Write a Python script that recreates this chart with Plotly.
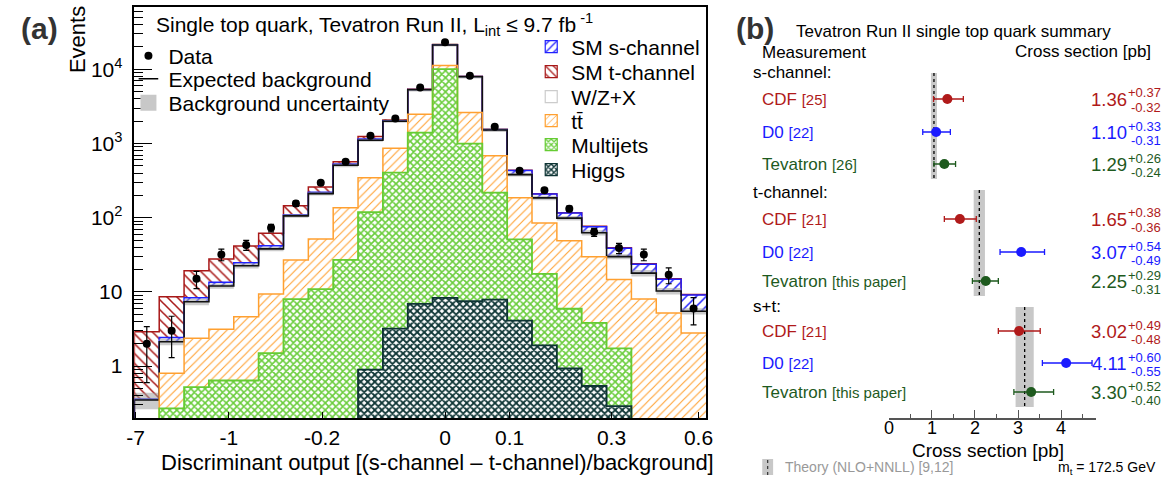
import numpy as np
import plotly.graph_objects as go

W, H = 1175, 481
FONT = "Liberation Sans"

# ---------------- Panel (a): data ----------------
x_tick_labels = ["-7", "-1", "-0.2", "0", "0.1", "0.3", "0.6"]
higgs = [0, 0, 0, 0, 0, 0, 0, 0, 0, 0.9, 3.2, 6.9, 8.3, 7.5, 7.9, 4.1, 1.9, 0.93, 0.54, 0.29, 0, 0, 0]
multijets = [0, 0.27, 0.52, 0.64, 0.64, 1.5, 8.0, 10.9, 27, 118, 402, 1400, 10080, 992, 210, 47, 15.6, 5.0, 3.3, 1.44, 0, 0, 0]
ttbar = [0, 0.53, 1.85, 2.5, 4.0, 7.9, 19, 40.6, 109, 228, 459, 1081, 1130, 1624, 464, 135, 67.5, 43, 26, 13, 8.0, 5.2, 2.8]
wzx = [0.35, 1.33, 5.0, 8.9, 17.9, 28.6, 79, 160, 373, 762, 1136, 2810, 10080, 5326, 838, 195, 100, 50, 33, 15.2, 9.9, 5.1, 2.7]
s_channel = [0.01, 0.31, 1.0, 1.5, 2.1, 4, 4, 9, 21, 41, 30, 50, 100, 50, 25, 51, 24, 17, 13, 9, 5.8, 4.5, 3.6]
t_channel = [2.54, 6.2, 11, 14.2, 16.8, 20, 35, 40, 40, 90, 50, 70, 150, 40, 15, 3, 2, 1, 1, 0.5, 0.3, 0.2, 0.1]
bkg_unc_rel = [0.25, 0.1, 0.1, 0.08, 0.08, 0.07, 0.06, 0.06, 0.06, 0.05, 0.05, 0.05, 0.05, 0.05, 0.06, 0.06, 0.07, 0.07, 0.08, 0.08, 0.1, 0.1, 0.1]
data_counts = [2, 3, 15, 32, 43, 73, 155, 297, 568, 1270, 2175, 5710, 23170, 8220, 1680, 430, 234, 132, 64, 39, 32, 17, 6]
data_err = [1.4, 1.7, 3.9, 5.7, 6.6, 8.5, 12.4, 17, 24, 36, 47, 76, 152, 91, 41, 21, 15, 11.5, 8, 6.2, 5.7, 4.1, 2.4]

# ---------------- Panel (b): data ----------------
groups = ["s-channel:", "t-channel:", "s+t:"]
experiments = ["CDF", "D0", "Tevatron"]
references = [["[25]", "[22]", "[26]"],
              ["[21]", "[22]", "[this paper]"],
              ["[21]", "[22]", "[this paper]"]]
xsec = [[1.36, 1.10, 1.29], [1.65, 3.07, 2.25], [3.02, 4.11, 3.30]]
xsec_up = [[0.37, 0.33, 0.26], [0.38, 0.54, 0.29], [0.49, 0.60, 0.52]]
xsec_dn = [[0.32, 0.31, 0.24], [0.36, 0.49, 0.31], [0.48, 0.55, 0.40]]
theory = [1.05, 2.10, 3.15]
theory_err = [0.07, 0.13, 0.21]
b_ticks = [0, 1, 2, 3, 4]

# ---------------- layout constants (pixels) ----------------
A_L, A_R, A_T, A_B = 128, 707, 7, 418
B_L, B_R, B_AX = 892, 1102, 419
x_tick_pos = [0.05, 3.8, 7.55, 12.5, 15.1, 19.2, 22.7]
ROW_Y = [[99, 132, 164], [219, 252, 281], [331, 363, 392]]
HEAD_Y = [73, 193, 306]
BAND_Y = [(73, 179), (190, 296), (307, 407)]
EXP_COL = {"CDF": "#b01a1a", "D0": "#1a1aff", "Tevatron": "#1e5a1e"}


def px(x):
    return x / W


def py(y):
    return 1 - y / H


nb = len(data_counts)
centers = np.arange(nb) + 0.5
fig = go.Figure()

# stacked components
comp_style = [
    ("Higgs", higgs, dict(shape="x", fgcolor="#0f3636", size=5, solidity=0.6), "#0e3434"),
    ("Multijets", multijets, dict(shape="x", fgcolor="#6acd3c", size=5, solidity=0.55), "#66cc33"),
    ("tt̄", ttbar, dict(shape="/", fgcolor="#ffa030", size=6, solidity=0.18), "#ffa030"),
    ("W/Z+X", wzx, None, "#cccccc"),
    ("SM s-channel", s_channel, dict(shape="/", fgcolor="#2020ff", size=7, solidity=0.22), "#2020ff"),
    ("SM t-channel", t_channel, dict(shape="\\", fgcolor="#a81818", size=7, solidity=0.22), "#a81818"),
]
for name, vals, pat, lc in comp_style:
    marker = dict(color="white", line=dict(width=0))
    if pat is not None:
        marker["pattern"] = dict(bgcolor="white", fillmode="replace", **pat)
    fig.add_trace(go.Bar(x=centers, y=vals, width=1.0, marker=marker, showlegend=False,
                         hoverinfo="skip", xaxis="x", yaxis="y"))

cum = np.cumsum(np.array([higgs, multijets, ttbar, wzx, s_channel, t_channel], dtype=float), axis=0)
FLOOR = 1e-3
xs_step = np.concatenate([[0], np.arange(nb), [nb]])


def step_y(v):
    v = np.where(v > 0, v, FLOOR)
    return np.concatenate([[FLOOR], v, [v[-1]]])


def add_step(v, color, width=1.5):
    fig.add_trace(go.Scatter(x=xs_step, y=step_y(v), mode="lines", line=dict(color=color, width=width, shape="hv"),
                             showlegend=False, hoverinfo="skip", xaxis="x", yaxis="y"))


add_step(cum[5], "#a81818")
add_step(cum[4], "#2020ff")

bkg = cum[3]
rel = np.array(bkg_unc_rel)
xs_band = np.concatenate([np.arange(nb), [nb]])
lo = bkg * (1 - rel)
hi = bkg * (1 + rel)
fig.add_trace(go.Scatter(x=xs_band, y=np.concatenate([lo, [lo[-1]]]), mode="lines",
                         line=dict(width=0, shape="hv"), showlegend=False, hoverinfo="skip", xaxis="x", yaxis="y"))
fig.add_trace(go.Scatter(x=xs_band, y=np.concatenate([hi, [hi[-1]]]), mode="lines", fill="tonexty",
                         fillcolor="rgba(160,160,160,0.55)", line=dict(width=0, shape="hv"),
                         showlegend=False, hoverinfo="skip", xaxis="x", yaxis="y"))
add_step(cum[3], "#111111", 1.6)
add_step(cum[2], "#ffa030")
add_step(cum[1], "#66cc33", 1.8)
add_step(cum[0], "#0e3434", 1.8)

fig.add_trace(go.Scatter(x=centers, y=data_counts, mode="markers",
                         marker=dict(color="black", size=8),
                         error_y=dict(type="data", array=data_err, color="black", thickness=1.2, width=3),
                         showlegend=False, hoverinfo="skip", xaxis="x", yaxis="y"))

# legend entries (empty traces)
leg_font = dict(family=FONT, size=21, color="black")
fig.add_trace(go.Scatter(x=[None], y=[None], mode="markers", name="Data",
                         marker=dict(color="black", size=8), legend="legend", showlegend=True))
fig.add_trace(go.Scatter(x=[None], y=[None], mode="markers", name="Expected background",
                         marker=dict(symbol="line-ew-open", size=14, color="black",
                                     line=dict(color="black", width=1.5)),
                         legend="legend2", showlegend=True))
fig.add_trace(go.Scatter(x=[None], y=[None], mode="markers", name="Background uncertainty",
                         marker=dict(symbol="square", size=16, color="#c8c8c8"),
                         legend="legend3", showlegend=True))
right_leg = ["SM s-channel", "SM t-channel", "W/Z+X", "tt̄", "Multijets", "Higgs"]
style_by_name = {c[0]: c for c in comp_style}
for i, nm in enumerate(right_leg):
    _, _, pat, lc = style_by_name[nm]
    mk = dict(color="white", line=dict(width=1.2, color=lc))
    if pat is not None:
        mk["pattern"] = dict(bgcolor="white", fillmode="replace", **pat)
    fig.add_trace(go.Bar(x=[None], y=[None], name=nm, marker=mk, legend=f"legend{4 + i}",
                         showlegend=True, xaxis="x", yaxis="y"))

# ---------------- Panel (b) traces ----------------
for k, exp in enumerate(experiments):
    fig.add_trace(go.Scatter(
        x=[xsec[g][k] for g in range(3)], y=[ROW_Y[g][k] for g in range(3)], mode="markers",
        marker=dict(color=EXP_COL[exp], size=10),
        error_x=dict(type="data", symmetric=False, array=[xsec_up[g][k] for g in range(3)],
                     arrayminus=[xsec_dn[g][k] for g in range(3)], color=EXP_COL[exp], thickness=1.3, width=3),
        showlegend=False, hoverinfo="skip", xaxis="x2", yaxis="y2"))

shapes = []
for g in range(3):
    y0, y1 = BAND_Y[g]
    shapes.append(dict(type="rect", xref="x2", yref="y2", x0=theory[g] - theory_err[g], x1=theory[g] + theory_err[g],
                       y0=y0, y1=y1, fillcolor="#c8c8c8", line=dict(width=0), layer="below"))
    shapes.append(dict(type="line", xref="x2", yref="y2", x0=theory[g], x1=theory[g], y0=y0, y1=y1,
                       line=dict(color="black", width=1.3, dash="dot"), layer="below"))
# theory legend glyph
shapes.append(dict(type="rect", xref="paper", yref="paper", x0=px(764), x1=px(775), y0=py(475), y1=py(459),
                   fillcolor="#c8c8c8", line=dict(width=0)))
shapes.append(dict(type="line", xref="paper", yref="paper", x0=px(769.5), x1=px(769.5), y0=py(475), y1=py(459),
                   line=dict(color="#333333", width=1.2, dash="dot")))

ann = []


def text(x, y, s, size, xanchor="left", color="black", bold=False, angle=0):
    if bold:
        s = f"<b>{s}</b>"
    ann.append(dict(x=px(x), y=py(y), xref="paper", yref="paper", text=s, showarrow=False,
                    xanchor=xanchor, yanchor="middle", textangle=angle,
                    font=dict(family=FONT, size=size, color=color)))


text(32, 28, "(a)", 30, "center", "#333333", bold=True)
text(70, 40, "Events", 22, "center", angle=-90)
text(148, 24, "Single top quark, Tevatron Run II, L<sub>int</sub> ≤ 9.7 fb<sup> -1</sup>", 21)
text(435, 462, "Discriminant output [(s-channel – t-channel)/background]", 22, "center")

text(757, 28, "(b)", 30, "center", "#333333", bold=True)
text(958, 31, "Tevatron Run II single top quark summary", 17, "center")
text(762, 53, "Measurement", 17)
text(1160, 51, "Cross section [pb]", 17, "right")
for g in range(3):
    text(753, HEAD_Y[g], groups[g], 17)
    for k, exp in enumerate(experiments):
        c = EXP_COL[exp]
        y = ROW_Y[g][k]
        text(762, y, f"{exp} <span style='font-size:15px'>{references[g][k]}</span>", 17, color=c)
        text(1136, y, f"{xsec[g][k]:.2f}", 18.5, "right", c)
        text(1170, y - 6, f"+{xsec_up[g][k]:.2f}", 13, "right", c)
        text(1170, y + 8, f"-{xsec_dn[g][k]:.2f}", 13, "right", c)
# panel (b) tick labels placed on the x2 scale
for v in b_ticks:
    ann.append(dict(x=v, xref="x2", y=py(428), yref="paper", text=str(v), showarrow=False,
                    xanchor="center", yanchor="middle", font=dict(family=FONT, size=18, color="black")))
text(993, 450, "Cross section [pb]", 19, "center")
text(785, 467, "Theory (NLO+NNLL) [9,12]", 14, color="#999999")
text(1165, 468, "m<sub>t</sub> = 172.5 GeV", 14, "right")

minor_vals = [m * 10.0 ** e for e in range(-1, 5) for m in range(2, 10)]

legends = {}
left_leg_y = [56, 79, 103]
for i, y in enumerate(left_leg_y):
    key = "legend" if i == 0 else f"legend{i + 1}"
    legends[key] = dict(x=px(122), y=py(y), xanchor="left", yanchor="middle", bgcolor="rgba(0,0,0,0)",
                        font=leg_font, borderwidth=0)
right_leg_y = [47, 72, 97, 121, 145, 170]
for i, y in enumerate(right_leg_y):
    legends[f"legend{4 + i}"] = dict(x=px(530), y=py(y), xanchor="left", yanchor="middle",
                                     bgcolor="rgba(0,0,0,0)", font=leg_font, borderwidth=0)

fig.update_layout(
    width=W, height=H, margin=dict(l=0, r=0, t=0, b=0),
    paper_bgcolor="white", plot_bgcolor="white",
    barmode="stack", bargap=0,
    font=dict(family=FONT, size=21, color="black"),
    xaxis=dict(domain=[px(A_L), px(A_R)], range=[0, nb], tickmode="array", tickvals=x_tick_pos,
               ticktext=x_tick_labels, ticks="inside", ticklen=6, tickcolor="black", tickwidth=1.2,
               showline=True, linecolor="black", linewidth=1.5, mirror=True, showgrid=False, zeroline=False,
               tickfont=dict(family=FONT, size=21), anchor="y"),
    yaxis=dict(domain=[py(A_B), py(A_T)], type="log", range=[np.log10(0.2), 4.84], tickmode="array",
               tickvals=[1, 10, 100, 1000, 10000],
               ticktext=["1", "10", "10<sup>2</sup>", "10<sup>3</sup>", "10<sup>4</sup>"],
               ticks="inside", ticklen=18, tickwidth=1.2, tickcolor="black",
               minor=dict(tickmode="array", tickvals=minor_vals, ticks="inside", ticklen=9, tickcolor="black",
                          tickwidth=1, showgrid=False),
               showline=True, linecolor="black", linewidth=1.5, mirror=True, showgrid=False, zeroline=False,
               tickfont=dict(family=FONT, size=21), anchor="x", ticklabelstandoff=6),
    xaxis2=dict(domain=[px(B_L), px(B_R)], range=[0, 4.8], tickmode="array", tickvals=b_ticks,
                showticklabels=False,
                ticks="inside", ticklen=8, tickcolor="#555555", tickwidth=1.2,
                minor=dict(tickmode="array", tickvals=[0.5, 1.5, 2.5, 3.5, 4.5], ticks="inside", ticklen=4,
                           tickcolor="#555555", showgrid=False),
                showline=True, linecolor="#555555", linewidth=1.5, showgrid=False, zeroline=False,
                anchor="free", position=py(B_AX)),
    yaxis2=dict(domain=[0, 1], range=[H, 0], visible=False, anchor="x2"),
    shapes=shapes, annotations=ann,
    **legends,
)

fig.write_html("out.html", config={"displayModeBar": False},
               post_script="document.body.style.margin='0';document.body.style.overflow='hidden';")
